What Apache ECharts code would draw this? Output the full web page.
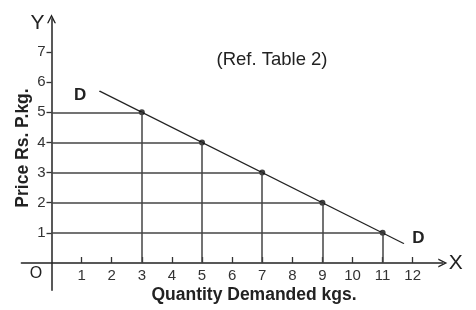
<!DOCTYPE html>
<html>
<head>
<meta charset="utf-8">
<script src="https://cdn.jsdelivr.net/npm/echarts@6/dist/echarts.min.js"></script>
<style>html,body{margin:0;padding:0;background:#fff}#c{width:476px;height:310px}</style>
</head>
<body>
<div id="c"></div>
<script>
// Demand schedule (Ref. Table 2)
const quantity = [3, 5, 7, 9, 11];
const price = [5, 4, 3, 2, 1];
// Demand curve DD extent
const demandQ = [1.6, 11.7];
const demandP = [5.7, 0.65];
const demandLabels = ['D', 'D'];
// Tick labels
const xTicks = [1, 2, 3, 4, 5, 6, 7, 8, 9, 10, 11, 12];
const yTicks = [1, 2, 3, 4, 5, 6, 7];

const FONT = "'Liberation Sans', Arial, sans-serif";
const chart = echarts.init(document.getElementById('c'), null, {renderer: 'canvas'});

const X_MIN = -1, X_MAX = 13, Y_MIN = -0.9, Y_MAX = 8.1;
const GRID = {left: 21.4, top: 18.8, width: 421.4, height: 271.35};
const xUnit = GRID.width / (X_MAX - X_MIN);
const yUnit = GRID.height / (Y_MAX - Y_MIN);

const guideLines = [];
quantity.forEach((q, i) => {
  guideLines.push([{coord: [0, price[i]]}, {coord: [q, price[i]]}]);
  guideLines.push([{coord: [q, 0]}, {coord: [q, price[i]]}]);
});

const chevron = 'path://M0,10 L5,0 L10,10 L8.4,10 L5,3.2 L1.6,10 Z';

chart.setOption({
  animation: false,
  backgroundColor: '#ffffff',
  grid: Object.assign({containLabel: false, outerBoundsMode: 'none'}, GRID),
  xAxis: {
    type: 'value', min: X_MIN, max: X_MAX, interval: 1,
    position: 'bottom', offset: -(0 - Y_MIN) * yUnit,
    splitLine: {show: false},
    axisLine: {onZero: false, lineStyle: {color: '#222', width: 1.5}, symbol: ['none', chevron], symbolSize: [12, 9], symbolOffset: [0, 0]},
    axisTick: {show: true, inside: true, length: 6, customValues: xTicks, lineStyle: {color: '#333', width: 1.3}},
    axisLabel: {customValues: xTicks, margin: 5, fontSize: 15, color: '#333', fontFamily: FONT},
    name: 'X', nameLocation: 'end', nameGap: 6,
    nameTextStyle: {fontSize: 21, color: '#222', fontFamily: FONT, align: 'left', verticalAlign: 'middle'}
  },
  yAxis: {
    type: 'value', min: Y_MIN, max: Y_MAX, interval: 1,
    position: 'left', offset: -(0 - X_MIN) * xUnit,
    splitLine: {show: false},
    axisLine: {onZero: false, lineStyle: {color: '#222', width: 1.5}, symbol: ['none', chevron], symbolSize: [12, 9], symbolOffset: [0, 0]},
    axisTick: {show: true, inside: false, length: 5, customValues: yTicks, lineStyle: {color: '#333', width: 1.3}},
    axisLabel: {customValues: yTicks, margin: 6, fontSize: 15, color: '#333', fontFamily: FONT},
    name: 'Y', nameLocation: 'end', nameGap: -4,
    nameTextStyle: {fontSize: 21, color: '#222', fontFamily: FONT, align: 'right', verticalAlign: 'middle', padding: [0, 7, 0, 0]}
  },
  series: [
    {
      type: 'scatter', data: [], z: 1,
      markLine: {
        silent: true, symbol: ['none', 'none'], label: {show: false},
        lineStyle: {color: '#444', width: 1.5, type: 'solid'},
        emphasis: {disabled: true},
        data: guideLines
      }
    },
    {
      type: 'line', z: 3,
      data: demandQ.map((q, i) => ({
        value: [q, demandP[i]],
        label: {
          show: true, formatter: demandLabels[i],
          position: i === 0 ? 'left' : 'right',
          offset: i === 0 ? [-8, 4] : [3, -5],
          fontSize: 17, fontWeight: 'bold', color: '#222', fontFamily: FONT
        }
      })),
      symbol: 'circle', symbolSize: 1, showSymbol: true,
      itemStyle: {color: '#222'},
      lineStyle: {color: '#222', width: 1.2}
    },
    {
      type: 'scatter', z: 4,
      data: quantity.map((q, i) => [q, price[i]]),
      symbolSize: 6, itemStyle: {color: '#111'}
    }
  ],
  graphic: [
    {type: 'text', x: 272, y: 60, style: {text: '(Ref. Table 2)', fontSize: 18.5, fontFamily: FONT, fill: '#222', align: 'center', verticalAlign: 'middle'}},
    {type: 'text', x: 23, y: 148, rotation: Math.PI / 2, style: {text: 'Price Rs. P.kg.', fontSize: 17.5, fontWeight: 'bold', fontFamily: FONT, fill: '#222', align: 'center', verticalAlign: 'middle'}},
    {type: 'text', x: 254, y: 295, style: {text: 'Quantity Demanded kgs.', fontSize: 17.5, fontWeight: 'bold', fontFamily: FONT, fill: '#222', align: 'center', verticalAlign: 'middle'}},
    {type: 'text', x: 36, y: 274, style: {text: 'O', fontSize: 16, fontFamily: FONT, fill: '#222', align: 'center', verticalAlign: 'middle'}}
  ]
});
</script>
</body>
</html>
